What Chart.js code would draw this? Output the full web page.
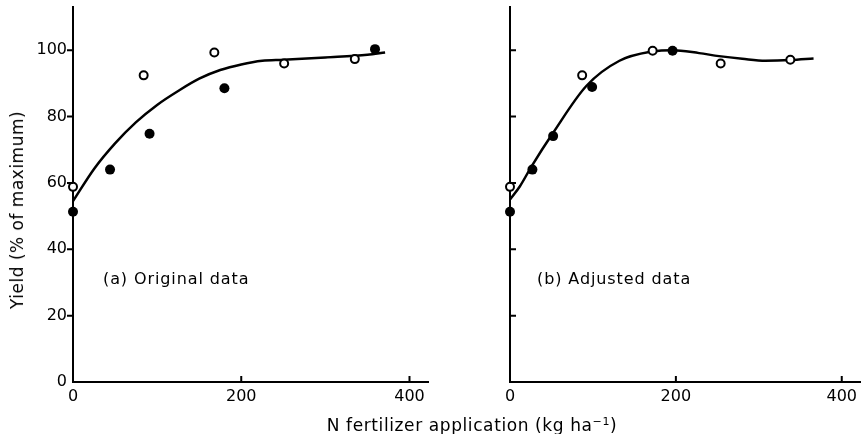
<!DOCTYPE html>
<html>
<head>
<meta charset="utf-8">
<script src="https://cdn.jsdelivr.net/npm/chart.js@4/dist/chart.umd.min.js"></script>
<style>
  body { margin: 0; background: #fff; width: 867px; height: 434px; position: relative; overflow: hidden; }
  canvas { position: absolute; top: 0; }
  .txt { position: absolute; font-family: "DejaVu Sans", sans-serif; color: #000; white-space: nowrap; }
  sup { font-size: 11px; }
</style>
</head>
<body>
<canvas id="chartA" width="440" height="434" style="left:0"></canvas>
<canvas id="chartB" width="432" height="434" style="left:435px"></canvas>
<div class="txt" style="left:17px;top:210px;font-size:17px;letter-spacing:0.5px;transform:translate(-50%,-50%) rotate(-90deg)">Yield (% of maximum)</div>
<div class="txt" style="left:472px;top:425px;font-size:17px;letter-spacing:0.6px;transform:translate(-50%,-50%)">N fertilizer application (kg ha<sup>−1</sup>)</div>
<div class="txt" style="left:103px;top:278px;font-size:16px;letter-spacing:0.9px;transform:translateY(-50%)">(a) Original data</div>
<div class="txt" style="left:537px;top:278px;font-size:16px;letter-spacing:0.9px;transform:translateY(-50%)">(b) Adjusted data</div>
<script>
// values (x = N applied, kg/ha; y = yield, % of max)
const xTicks = [0, 200, 400];
const yTicks = [0, 20, 40, 60, 80, 100];

const leftOpenX = [0, 84, 168, 251, 335];
const leftOpenY = [58.8, 92.4, 99.3, 96, 97.3];
const leftFilledX = [0, 44, 91, 180, 359];
const leftFilledY = [51.3, 64, 74.8, 88.5, 100.3];
const leftCurveX = [0, 25, 50, 75, 100, 125, 150, 175, 200, 225, 250, 300, 350, 371];
const leftCurveY = [54.5, 64.2, 71.9, 78.3, 83.5, 87.7, 91.4, 94, 95.7, 96.8, 97.1, 97.8, 98.6, 99.3];

const rightOpenX = [0, 87, 172, 254, 338];
const rightOpenY = [58.8, 92.4, 99.8, 96, 97.1];
const rightFilledX = [0, 27, 52, 99, 196];
const rightFilledY = [51.3, 64, 74.1, 88.9, 99.8];
const rightCurveX = [0, 12, 26, 52, 92, 132, 172, 196, 228, 252, 280, 308, 338, 366];
const rightCurveY = [55, 59, 65, 75.1, 89.2, 96.8, 99.6, 100, 99.1, 98.2, 97.4, 96.8, 97, 97.5];

const ink = "#000";

function pts(xs, ys) {
  return xs.map((x, i) => ({ x: x, y: ys[i] }));
}

// short tick marks: x ticks point up into the plot, y ticks in or out
const tickMarks = {
  id: "tickMarks",
  afterDraw(chart, args, opts) {
    const ctx = chart.ctx;
    const xs = chart.scales.x, ys = chart.scales.y;
    const area = chart.chartArea;
    ctx.save();
    ctx.strokeStyle = ink;
    ctx.lineWidth = 2;
    ctx.beginPath();
    xs.ticks.forEach(t => {
      if (t.value === 0) return;
      const px = xs.getPixelForValue(t.value);
      ctx.moveTo(px, area.bottom);
      ctx.lineTo(px, area.bottom - 6);
    });
    const dir = opts.yOut ? -1 : 1;
    ys.ticks.forEach(t => {
      if (t.value === 0) return;
      const py = ys.getPixelForValue(t.value);
      ctx.moveTo(area.left, py);
      ctx.lineTo(area.left + dir * 6, py);
    });
    ctx.stroke();
    ctx.restore();
  }
};

function makeChart(id, openX, openY, filledX, filledY, curveX, curveY, yLabels, yAxisWidth, padRight) {
  return new Chart(document.getElementById(id), {
    type: "scatter",
    data: {
      datasets: [
        {
          data: pts(openX, openY),
          pointRadius: 4,
          pointBorderWidth: 2,
          pointBackgroundColor: "#fff",
          pointBorderColor: ink,
          clip: false
        },
        {
          data: pts(filledX, filledY),
          pointRadius: 5,
          pointBorderWidth: 0,
          pointBackgroundColor: ink,
          clip: false
        },
        {
          data: pts(curveX, curveY),
          showLine: true,
          pointRadius: 0,
          borderColor: ink,
          borderWidth: 2.5,
          cubicInterpolationMode: "monotone",
          clip: false
        }
      ]
    },
    options: {
      responsive: false,
      devicePixelRatio: 1,
      animation: false,
      layout: { padding: { top: 7, right: padRight, left: 0, bottom: 0 } },
      plugins: {
        legend: { display: false },
        tooltip: { enabled: false },
        tickMarks: { yOut: yLabels }
      },
      scales: {
        x: {
          type: "linear",
          min: 0,
          max: 422,
          afterBuildTicks: s => { s.ticks = xTicks.map(v => ({ value: v })); },
          afterFit: s => { s.height = 52; s.paddingLeft = 0; s.paddingRight = 0; },
          grid: { display: false, drawTicks: false, tickLength: 0 },
          border: { display: true, color: ink, width: 2 },
          ticks: {
            padding: 5,
            color: ink,
            font: { family: "DejaVu Sans", size: 16 }
          }
        },
        y: {
          type: "linear",
          min: 0,
          max: 113,
          afterBuildTicks: s => { s.ticks = yTicks.map(v => ({ value: v })); },
          afterFit: s => { s.width = yAxisWidth; s.paddingTop = 0; s.paddingBottom = 0; },
          grid: { display: false, drawTicks: false, tickLength: 0 },
          border: { display: true, color: ink, width: 2 },
          ticks: {
            display: yLabels,
            padding: 6,
            color: ink,
            font: { family: "DejaVu Sans", size: 16 }
          }
        }
      }
    },
    plugins: [tickMarks]
  });
}

makeChart("chartA", leftOpenX, leftOpenY, leftFilledX, leftFilledY, leftCurveX, leftCurveY, true, 73, 12);
makeChart("chartB", rightOpenX, rightOpenY, rightFilledX, rightFilledY, rightCurveX, rightCurveY, false, 75, 7);
</script>
</body>
</html>
